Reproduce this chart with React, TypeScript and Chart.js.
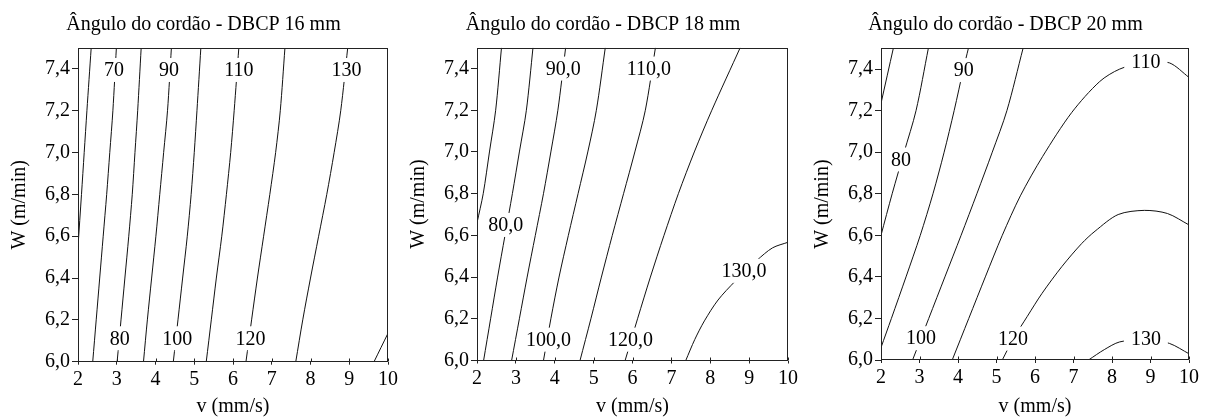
import React, { useEffect, useRef } from 'react';
import { Chart, registerables } from 'chart.js';

Chart.register(...registerables);

// ---------- axes ----------
const X_TICKS = [2, 3, 4, 5, 6, 7, 8, 9, 10];
const X_TICK_LABELS = ['2', '3', '4', '5', '6', '7', '8', '9', '10'];
const Y_TICKS = [6.0, 6.2, 6.4, 6.6, 6.8, 7.0, 7.2, 7.4];
const Y_TICK_LABELS = ['6,0', '6,2', '6,4', '6,6', '6,8', '7,0', '7,2', '7,4'];
const X_RANGE = [2, 10];
const Y_RANGE = [6.0, 7.5];
const X_TITLE = 'v (mm/s)';
const Y_TITLE = 'W (m/min)';
const TITLES = [
  'Ângulo do cordão - DBCP 16 mm',
  'Ângulo do cordão - DBCP 18 mm',
  'Ângulo do cordão - DBCP 20 mm',
];

// ---------- DBCP 16 mm contour lines: [v, W] ----------
const D16_C60 = [[2.0, 6.55], [2.09, 6.8], [2.16, 7.0], [2.23, 7.2], [2.34, 7.5]];
const D16_C70 = [[2.38, 6.0], [2.47, 6.2], [2.56, 6.4], [2.65, 6.6], [2.74, 6.8], [2.82, 7.0], [2.9, 7.2], [2.99, 7.5]];
const D16_C80 = [[3.01, 6.0], [3.11, 6.2], [3.21, 6.4], [3.31, 6.6], [3.4, 6.8], [3.47, 7.0], [3.54, 7.2], [3.63, 7.5]];
const D16_C90 = [[3.69, 6.0], [3.79, 6.2], [3.9, 6.4], [4.01, 6.6], [4.11, 6.8], [4.21, 7.0], [4.31, 7.2], [4.41, 7.5]];
const D16_C100 = [[4.46, 6.0], [4.58, 6.2], [4.7, 6.4], [4.82, 6.6], [4.92, 6.8], [5.0, 7.0], [5.07, 7.2], [5.17, 7.5]];
const D16_C110 = [[5.31, 6.0], [5.44, 6.2], [5.57, 6.4], [5.71, 6.6], [5.83, 6.8], [5.94, 7.0], [6.03, 7.2], [6.15, 7.5]];
const D16_C120 = [[6.335, 6.0], [6.48, 6.2], [6.63, 6.4], [6.79, 6.6], [6.95, 6.8], [7.1, 7.0], [7.22, 7.2], [7.34, 7.5]];
const D16_C130 = [[7.62, 6.0], [7.8, 6.2], [8.0, 6.4], [8.21, 6.6], [8.42, 6.8], [8.61, 7.0], [8.78, 7.2], [8.96, 7.5]];
const D16_C140 = [[9.64, 6.0], [10.0, 6.136]];
const D16_LABEL_TEXT = ['70', '90', '110', '130', '80', '100', '120'];
const D16_LABEL_V = [2.93, 4.35, 6.15, 8.93, 3.08, 4.56, 6.45];
const D16_LABEL_W = [7.395, 7.395, 7.395, 7.395, 6.112, 6.112, 6.112];

// ---------- DBCP 18 mm ----------
const D18_C70 = [[2.0, 6.66], [2.16, 6.8], [2.32, 7.0], [2.48, 7.2], [2.63, 7.5]];
const D18_C80 = [[2.17, 6.0], [2.35, 6.2], [2.53, 6.4], [2.72, 6.6], [2.91, 6.8], [3.09, 7.0], [3.27, 7.2], [3.44, 7.5]];
const D18_C90 = [[2.89, 6.0], [3.09, 6.2], [3.29, 6.4], [3.5, 6.6], [3.71, 6.8], [3.9, 7.0], [4.08, 7.2], [4.28, 7.5]];
const D18_C100 = [[3.71, 6.0], [3.9, 6.2], [4.11, 6.4], [4.35, 6.6], [4.6, 6.8], [4.85, 7.0], [5.07, 7.2], [5.3, 7.5]];
const D18_C110 = [[4.65, 6.0], [4.93, 6.2], [5.2, 6.4], [5.48, 6.6], [5.77, 6.8], [6.06, 7.0], [6.33, 7.2], [6.59, 7.5]];
const D18_C120 = [[5.81, 6.0], [6.13, 6.2], [6.46, 6.4], [6.81, 6.6], [7.18, 6.8], [7.59, 7.0], [8.04, 7.2], [8.77, 7.5]];
const D18_C130 = [[7.37, 6.0], [7.6, 6.1], [7.85, 6.19], [8.2, 6.29], [8.64, 6.38], [9.2, 6.48], [9.6, 6.54], [10.0, 6.567]];
const D18_LABEL_TEXT = ['80,0', '90,0', '110,0', '100,0', '120,0', '130,0'];
const D18_LABEL_V = [2.74, 4.22, 6.42, 3.84, 5.95, 8.87];
const D18_LABEL_W = [6.65, 7.4, 7.4, 6.1, 6.1, 6.43];

// ---------- DBCP 20 mm ----------
const D20_C70 = [[2.0, 7.235], [2.32, 7.5]];
const D20_C80 = [[2.0, 6.6], [2.29, 6.8], [2.6, 7.0], [2.91, 7.2], [3.23, 7.5]];
const D20_C90 = [[2.0, 6.06], [2.27, 6.2], [2.65, 6.4], [3.02, 6.6], [3.35, 6.8], [3.64, 7.0], [3.9, 7.2], [4.14, 7.4], [4.27, 7.5]];
const D20_C100 = [[2.82, 6.0], [3.24, 6.2], [3.66, 6.4], [4.08, 6.6], [4.49, 6.8], [4.89, 7.0], [5.27, 7.2], [5.69, 7.5]];
const D20_C110 = [[3.85, 6.0], [4.28, 6.2], [4.71, 6.4], [5.15, 6.6], [5.62, 6.79], [6.2, 6.98], [6.95, 7.19], [7.68, 7.34], [8.2, 7.4], [8.88, 7.435], [9.49, 7.43], [10.0, 7.36]];
const D20_C120 = [[5.15, 6.0], [5.43, 6.1], [5.8, 6.21], [6.18, 6.32], [6.7, 6.45], [7.21, 6.56], [7.56, 6.62], [8.16, 6.7], [8.84, 6.72], [9.44, 6.705], [10.0, 6.65]];
const D20_C130 = [[7.39, 6.0], [7.8, 6.05], [8.2, 6.087], [8.88, 6.1], [9.49, 6.08], [10.0, 6.03]];
const D20_LABEL_TEXT = ['80', '90', '100', '110', '120', '130'];
const D20_LABEL_V = [2.52, 4.15, 3.04, 8.88, 5.43, 8.88];
const D20_LABEL_W = [6.965, 7.395, 6.105, 7.435, 6.103, 6.1];

const PANEL_LINES = [
  [D16_C60, D16_C70, D16_C80, D16_C90, D16_C100, D16_C110, D16_C120, D16_C130, D16_C140],
  [D18_C70, D18_C80, D18_C90, D18_C100, D18_C110, D18_C120, D18_C130],
  [D20_C70, D20_C80, D20_C90, D20_C100, D20_C110, D20_C120, D20_C130],
];
const PANEL_LABELS = [
  [D16_LABEL_TEXT, D16_LABEL_V, D16_LABEL_W],
  [D18_LABEL_TEXT, D18_LABEL_V, D18_LABEL_W],
  [D20_LABEL_TEXT, D20_LABEL_V, D20_LABEL_W],
];

// ---------- layout (pixels) ----------
const H = 419;
const FONT_FAMILY = '"Liberation Serif", "Times New Roman", serif';
const FONT_SIZE = 20;
const LAYOUT = [
  { left: 0, width: 401, top: 48, bottom: 361.7 },
  { left: 399, width: 402, top: 47.7, bottom: 360.5 },
  { left: 803, width: 399, top: 48.3, bottom: 360 },
];
const PAD_LEFT = 16;
const Y_AXIS_W = 78 - PAD_LEFT;

const framePlugin = {
  id: 'frame',
  afterDraw(chart: any) {
    const { ctx, chartArea } = chart;
    const l = Math.round(chartArea.left) + 0.5;
    const t = Math.round(chartArea.top) + 0.5;
    const r = Math.round(chartArea.right) - 0.5;
    const b = Math.round(chartArea.bottom) - 0.5;
    ctx.save();
    ctx.strokeStyle = '#222';
    ctx.lineWidth = 1;
    ctx.strokeRect(l, t, r - l, b - t);
    const xs = chart.scales.x;
    ctx.beginPath();
    for (const v of X_TICKS) {
      const px = Math.round(xs.getPixelForValue(v)) + 0.5;
      ctx.moveTo(px, b);
      ctx.lineTo(px, b - 3);
    }
    ctx.stroke();
    ctx.restore();
  },
};

function makeLabelPlugin(idx: number) {
  return {
    id: 'contourLabels' + idx,
    afterDatasetsDraw(chart: any) {
      const [texts, vs, ws] = PANEL_LABELS[idx];
      const { ctx } = chart;
      const xs = chart.scales.x;
      const ys = chart.scales.y;
      ctx.save();
      ctx.font = `${FONT_SIZE}px ${FONT_FAMILY}`;
      ctx.textAlign = 'center';
      ctx.textBaseline = 'middle';
      for (let i = 0; i < texts.length; i++) {
        const px = xs.getPixelForValue(vs[i] as number);
        const py = ys.getPixelForValue(ws[i] as number);
        const tw = ctx.measureText(texts[i] as string).width;
        ctx.fillStyle = '#fff';
        ctx.fillRect(px - tw / 2 - 7, py - 12, tw + 14, 24);
        ctx.fillStyle = '#000';
        ctx.fillText(texts[i] as string, px, py + 1);
      }
      ctx.restore();
    },
  };
}

function Panel({ idx }: { idx: number }) {
  const ref = useRef<HTMLCanvasElement | null>(null);
  const lay = LAYOUT[idx];
  useEffect(() => {
    if (!ref.current) return;
    const font = { family: FONT_FAMILY, size: FONT_SIZE, weight: 'normal' as const, lineHeight: 1.2 };
    const lineH = FONT_SIZE * 1.2;
    const chart = new Chart(ref.current, {
      type: 'scatter',
      data: {
        datasets: PANEL_LINES[idx].map((pts) => ({
          data: pts.map(([x, y]) => ({ x, y })),
          showLine: true,
          borderColor: '#111',
          backgroundColor: '#111',
          borderWidth: 1,
          pointRadius: 0,
          pointHoverRadius: 0,
          tension: 0.3,
          fill: false,
        })),
      },
      options: {
        animation: false,
        responsive: false,
        devicePixelRatio: 1,
        events: [],
        layout: { padding: { left: PAD_LEFT, right: 10, top: 0, bottom: 0 } },
        plugins: {
          legend: { display: false },
          tooltip: { enabled: false },
          title: {
            display: true,
            text: TITLES[idx],
            color: '#000',
            font,
            padding: { top: 13, bottom: lay.top - 13 - lineH },
          },
        },
        scales: {
          x: {
            type: 'linear',
            position: 'bottom',
            min: X_RANGE[0],
            max: X_RANGE[1],
            afterBuildTicks: (s: any) => {
              s.ticks = X_TICKS.map((v) => ({ value: v }));
            },
            afterFit: (s: any) => {
              s.height = H - lay.bottom;
            },
            ticks: {
              callback: (_v: any, i: number) => X_TICK_LABELS[i],
              color: '#000',
              font,
              padding: 3,
              maxRotation: 0,
              autoSkip: false,
            },
            grid: { drawOnChartArea: false, drawTicks: true, tickLength: 3, color: '#222' },
            border: { display: false },
            title: { display: true, text: X_TITLE, color: '#000', font, padding: { top: 0, bottom: 0 } },
          },
          y: {
            type: 'linear',
            position: 'left',
            min: Y_RANGE[0],
            max: Y_RANGE[1],
            afterBuildTicks: (s: any) => {
              s.ticks = Y_TICKS.map((v) => ({ value: v }));
            },
            afterFit: (s: any) => {
              s.width = Y_AXIS_W;
            },
            ticks: {
              callback: (_v: any, i: number) => Y_TICK_LABELS[i],
              color: '#000',
              font,
              padding: 2,
              autoSkip: false,
            },
            grid: { drawOnChartArea: false, drawTicks: true, tickLength: 6, color: '#222' },
            border: { display: false },
            title: { display: true, text: Y_TITLE, color: '#000', font, padding: { top: -8, bottom: 0 } },
          },
        },
      } as any,
      plugins: [makeLabelPlugin(idx), framePlugin],
    });
    return () => chart.destroy();
  }, [idx]);
  return (
    <canvas
      ref={ref}
      width={lay.width}
      height={H}
      style={{ position: 'absolute', left: lay.left, top: 0, width: lay.width, height: H }}
    />
  );
}

export default function App() {
  return (
    <div style={{ position: 'fixed', left: 0, top: 0, width: 1215, height: H, background: '#fff', overflow: 'hidden' }}>
      <Panel idx={0} />
      <Panel idx={1} />
      <Panel idx={2} />
    </div>
  );
}
